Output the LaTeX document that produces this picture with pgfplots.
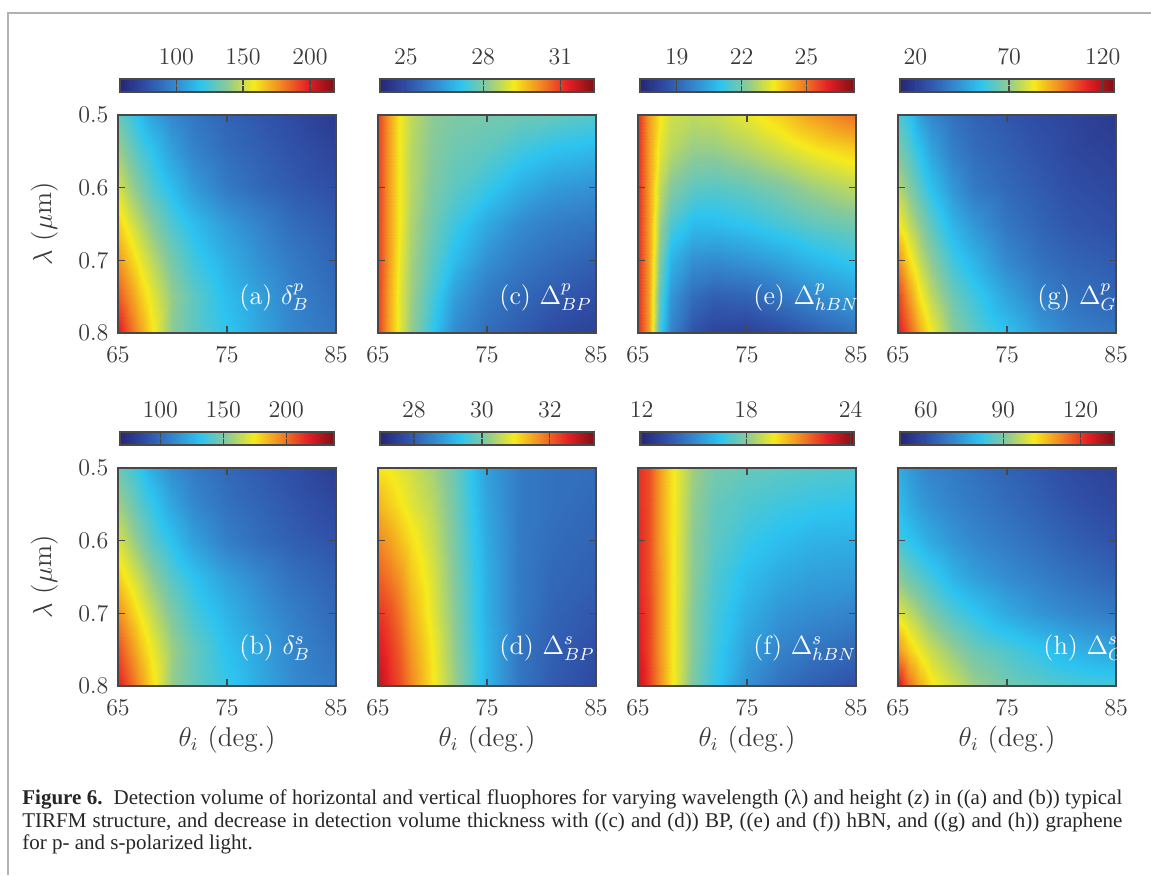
\documentclass[border=0pt]{standalone}
\usepackage{fontspec}
\usepackage{pgfplots}
\usepackage{pgfplotstable}
\pgfplotsset{compat=1.18}
\newfontfamily\capfont{Liberation Serif}
\definecolor{FrameGray}{RGB}{178,178,178}
\definecolor{AxisGray}{RGB}{72,72,72}
\definecolor{LabelGray}{RGB}{58,58,58}
\newcommand{\lbl}{\fontsize{12}{14}\selectfont}

% x = theta_i (deg), y = lambda (um); a..h = panels (a)..(h)
\pgfplotstableread{
x  y    a     b     c     d     e     f     g     h
65 0.50 130.0 146.2 30.97 30.97 25.81 22.48 59.8  77.4
66 0.50 123.6 139.4 29.98 30.91 24.43 21.99 55.2  74.1
67 0.50 115.6 132.6 29.15 30.78 23.54 20.76 46.1  71.6
68 0.50 107.6 124.1 28.65 30.65 23.04 19.77 40.4  69.9
70 0.50 98.0  112.2 28.15 30.34 22.84 18.30 34.6  68.3
72 0.50 91.6  105.4 27.98 29.90 22.94 17.68 31.2  66.6
75 0.50 85.2  98.6  27.90 28.89 23.34 17.44 27.8  64.1
78 0.50 80.4  93.5  27.82 28.39 23.83 17.31 24.4  61.6
81 0.50 75.6  88.4  27.74 28.26 24.43 17.19 22.1  59.1
85 0.50 67.6  79.9  27.57 28.20 25.02 17.07 18.7  56.6
65 0.55 141.2 156.4 30.97 31.35 25.81 22.48 66.6  79.9
66 0.55 133.2 149.6 29.98 31.16 24.43 21.99 60.9  76.6
67 0.55 125.2 141.1 29.15 30.97 23.24 20.76 54.1  74.1
68 0.55 118.8 134.3 28.57 30.78 22.75 19.77 47.2  72.4
70 0.55 106.0 120.7 28.07 30.47 22.35 18.17 38.1  69.9
72 0.55 96.4  110.5 27.82 29.96 22.35 17.44 33.5  68.3
75 0.55 88.4  102.0 27.65 28.95 22.65 17.07 30.1  65.8
78 0.55 83.6  96.9  27.32 28.39 23.04 16.82 26.6  63.3
81 0.55 78.8  91.8  27.07 28.26 23.44 16.70 23.2  60.8
85 0.55 72.4  85.0  26.91 28.13 23.83 16.57 20.9  58.3
65 0.60 152.4 168.3 30.97 31.73 25.81 22.60 74.6  84.0
66 0.60 142.8 159.8 29.98 31.54 24.43 21.99 67.8  81.5
67 0.60 134.8 151.3 29.15 31.28 22.84 20.76 60.9  79.1
68 0.60 126.8 142.8 28.57 31.03 22.15 19.77 54.1  76.6
70 0.60 115.6 130.9 27.98 30.59 21.66 18.05 43.8  73.2
72 0.60 104.4 119.0 27.65 30.02 21.56 17.31 36.9  70.8
75 0.60 93.2  107.1 27.24 29.02 21.76 16.70 32.4  68.3
78 0.60 86.8  100.3 26.74 28.39 22.05 16.33 28.9  65.8
81 0.60 82.0  95.2  26.41 28.20 22.45 16.08 25.5  63.3
85 0.60 77.2  90.1  26.24 28.07 22.84 15.96 23.2  60.8
65 0.65 163.6 180.2 30.97 32.04 25.81 22.60 83.7  91.5
66 0.65 154.0 171.7 29.98 31.85 24.43 21.99 75.8  88.2
67 0.65 146.0 163.2 29.15 31.60 22.45 20.88 68.9  85.7
68 0.65 138.0 154.7 28.48 31.22 21.46 19.77 62.0  83.2
70 0.65 125.2 141.1 27.82 30.72 20.86 18.05 50.6  78.2
72 0.65 115.6 130.9 27.32 30.09 20.86 17.07 43.8  74.9
75 0.65 104.4 119.0 26.66 29.08 21.06 16.33 35.8  71.6
78 0.65 96.4  110.5 26.16 28.39 21.36 15.84 31.2  69.1
81 0.65 88.4  102.0 25.91 28.13 21.66 15.59 27.8  66.6
85 0.65 82.0  95.2  25.74 28.01 21.95 15.47 25.5  64.1
65 0.70 174.8 193.8 30.97 32.36 25.81 22.72 96.3  99.8
66 0.70 165.2 183.6 29.98 32.17 24.43 22.11 84.9  96.5
67 0.70 155.6 173.4 29.06 31.85 22.05 20.88 75.8  93.2
68 0.70 147.6 164.9 28.40 31.41 20.67 19.77 68.9  89.8
70 0.70 133.2 149.6 27.65 30.78 19.97 17.93 57.5  84.9
72 0.70 122.0 137.7 26.99 30.15 19.87 16.94 50.6  81.5
75 0.70 110.8 125.8 26.24 29.08 20.07 15.96 40.4  76.6
78 0.70 101.2 115.6 25.83 28.39 20.37 15.34 34.6  73.2
81 0.70 93.2  107.1 25.58 28.07 20.77 15.10 31.2  70.8
85 0.70 85.2  98.6  25.33 27.88 21.16 14.85 28.9  68.3
65 0.75 187.6 207.4 30.97 32.61 25.81 22.85 107.7 110.6
66 0.75 176.4 195.5 29.89 32.36 24.43 22.11 95.2  104.8
67 0.75 165.2 183.6 28.98 32.04 21.66 20.88 83.7  100.6
68 0.75 155.6 173.4 28.32 31.60 20.07 19.77 75.8  97.3
70 0.75 139.6 156.4 27.40 30.91 19.18 17.93 64.3  92.3
72 0.75 128.4 144.5 26.49 30.21 18.88 16.82 57.5  88.2
75 0.75 115.6 130.9 25.83 29.14 18.98 15.59 47.2  84.9
78 0.75 106.0 120.7 25.49 28.32 19.38 14.85 39.2  81.5
81 0.75 96.4  110.5 25.25 28.01 19.78 14.48 34.6  78.2
85 0.75 88.4  102.0 25.00 27.76 20.27 14.11 31.2  75.7
65 0.80 200.4 217.6 30.97 32.86 25.81 23.22 113.4 124.7
66 0.80 186.0 205.7 29.89 32.48 24.43 22.23 103.2 114.7
67 0.80 173.2 192.1 28.98 32.17 21.26 21.00 91.7  108.1
68 0.80 160.4 178.5 28.23 31.73 19.68 19.77 82.6  103.1
70 0.80 138.0 154.7 27.15 30.97 18.59 17.80 68.9  98.1
72 0.80 128.4 144.5 26.16 30.28 18.19 16.70 62.0  93.2
75 0.80 118.8 134.3 25.58 29.14 18.09 15.22 54.1  89.0
78 0.80 107.6 122.4 25.25 28.32 18.39 14.36 44.9  86.5
81 0.80 98.0  112.2 24.91 27.95 18.79 13.87 39.2  84.9
85 0.80 91.6  105.4 24.66 27.63 19.28 13.38 35.8  84.0
}\data

\pgfplotsset{
  colormap={softjet}{rgb255(0cm)=(38,38,118) rgb255(1cm)=(48,80,168)
    rgb255(2cm)=(52,135,205) rgb255(3cm)=(45,196,240) rgb255(4cm)=(140,202,150)
    rgb255(5cm)=(246,234,28) rgb255(6cm)=(242,135,35) rgb255(7cm)=(230,32,36)
    rgb255(8cm)=(125,15,22)},
  panel/.style={
    anchor=south west,
    scale only axis, width=109pt, height=109pt,
    xmin=65, xmax=85, ymin=0.5, ymax=0.8, y dir=reverse,
    xtick={65,75,85}, ytick={0.5,0.6,0.7,0.8},
    axis on top, colormap name=softjet,
    tick align=inside, major tick length=3.5pt,
    axis line style={AxisGray, line width=0.8pt},
    tick style={AxisGray, line width=0.6pt},
    tick label style={font=\lbl, text=LabelGray},
    xticklabel style={yshift=-3.3pt},
    yticklabel style={xshift=-1.3pt, /pgf/number format/fixed,
      /pgf/number format/precision=1},
    colorbar horizontal,
    colorbar style={
      at={(parent axis.north)}, anchor=south, yshift=20pt,
      scale only axis, width=107pt, height=6.5pt,
      xticklabel pos=upper, tick align=inside, major tick length=3pt,
      axis line style={AxisGray, line width=0.8pt},
      tick style={AxisGray, line width=0.6pt},
      xticklabel style={font=\lbl, text=LabelGray, yshift=3.6pt},
    },
  },
  heat/.style={surf, shader=interp, mesh/cols=10, point meta=explicit},
}

\begin{document}
\begin{tikzpicture}[x=0.5pt, y=-0.5pt]
\path[use as bounding box] (0,0) rectangle (1151,875);
\draw[FrameGray, line width=1pt] (8,875) -- (8,13) -- (1151,13);

% top row: p-polarized (axis corners given in pt: px/2, y downwards)
\begin{axis}[panel, at={(59pt,-166.5pt)}, point meta min=58, point meta max=218,
  colorbar style={xtick={100,150,200}}]
\addplot[heat] table[x=x, y=y, meta=a] {\data};
\end{axis}
\begin{axis}[panel, at={(189pt,-166.5pt)}, yticklabels={}, point meta min=24, point meta max=32.3,
  colorbar style={xtick={25,28,31}}]
\addplot[heat] table[x=x, y=y, meta=c] {\data};
\end{axis}
\begin{axis}[panel, at={(319pt,-166.5pt)}, yticklabels={}, point meta min=17.3, point meta max=27.2,
  colorbar style={xtick={19,22,25}}]
\addplot[heat] table[x=x, y=y, meta=e] {\data};
\end{axis}
\begin{axis}[panel, at={(449pt,-166.5pt)}, yticklabels={}, point meta min=11.8, point meta max=126,
  colorbar style={xtick={20,70,120}}]
\addplot[heat] table[x=x, y=y, meta=g] {\data};
\end{axis}

% bottom row: s-polarized
\begin{axis}[panel, at={(59pt,-343pt)}, point meta min=68, point meta max=238,
  colorbar style={xtick={100,150,200}}]
\addplot[heat] table[x=x, y=y, meta=b] {\data};
\end{axis}
\begin{axis}[panel, at={(189pt,-343pt)}, yticklabels={}, point meta min=27, point meta max=33.3,
  colorbar style={xtick={28,30,32}}]
\addplot[heat] table[x=x, y=y, meta=d] {\data};
\end{axis}
\begin{axis}[panel, at={(319pt,-343pt)}, yticklabels={}, point meta min=11.9, point meta max=24.2,
  colorbar style={xtick={12,18,24}}]
\addplot[heat] table[x=x, y=y, meta=f] {\data};
\end{axis}
\begin{axis}[panel, at={(449pt,-343pt)}, yticklabels={}, point meta min=50, point meta max=133,
  colorbar style={xtick={60,90,120}}]
\addplot[heat] table[x=x, y=y, meta=h] {\data};
\end{axis}

% panel tags
\begin{scope}[every node/.style={font=\lbl, scale=1.1, text=white, anchor=base west, inner sep=0pt}]
\node at (239,304) {(a) $\delta_B^p$};
\node at (499,304) {(c) $\Delta_{BP}^p$};
\node at (753,304) {(e) $\Delta_{hBN}^p$};
\node at (1037,304) {(g) $\Delta_G^p$};
\node at (239,654) {(b) $\delta_B^s$};
\node at (499,654) {(d) $\Delta_{BP}^s$};
\node at (753,654) {(f) $\Delta_{hBN}^s$};
\node at (1043,654) {(h) $\Delta_G^s$};
\end{scope}

% axis titles
\begin{scope}[every node/.style={font=\lbl, scale=1.13, text=LabelGray}]
\node[rotate=90] at (45,224) {$\lambda$ ($\mu$m)};
\node[rotate=90] at (45,577) {$\lambda$ ($\mu$m)};
\node at (227,740) {$\theta_i$ (deg.)};
\node at (487,740) {$\theta_i$ (deg.)};
\node at (747,740) {$\theta_i$ (deg.)};
\node at (1007,740) {$\theta_i$ (deg.)};
\end{scope}

% caption
\begin{scope}[every node/.style={anchor=base west, inner sep=0pt, text=black!85,
    font=\capfont\fontsize{10.5}{12}\selectfont}]
\node at (22,804) {\makebox[550pt][s]{\textbf{Figure 6.}\ \ Detection volume of horizontal and vertical fluophores for varying wavelength (λ) and height (\textit{z}) in ((a) and (b)) typical}};
\node at (22,827) {\makebox[550pt][s]{TIRFM structure, and decrease in detection volume thickness with ((c) and (d)) BP, ((e) and (f)) hBN, and ((g) and (h)) graphene}};
\node at (22,849) {for p- and s-polarized light.};
\end{scope}
\end{tikzpicture}
\end{document}
